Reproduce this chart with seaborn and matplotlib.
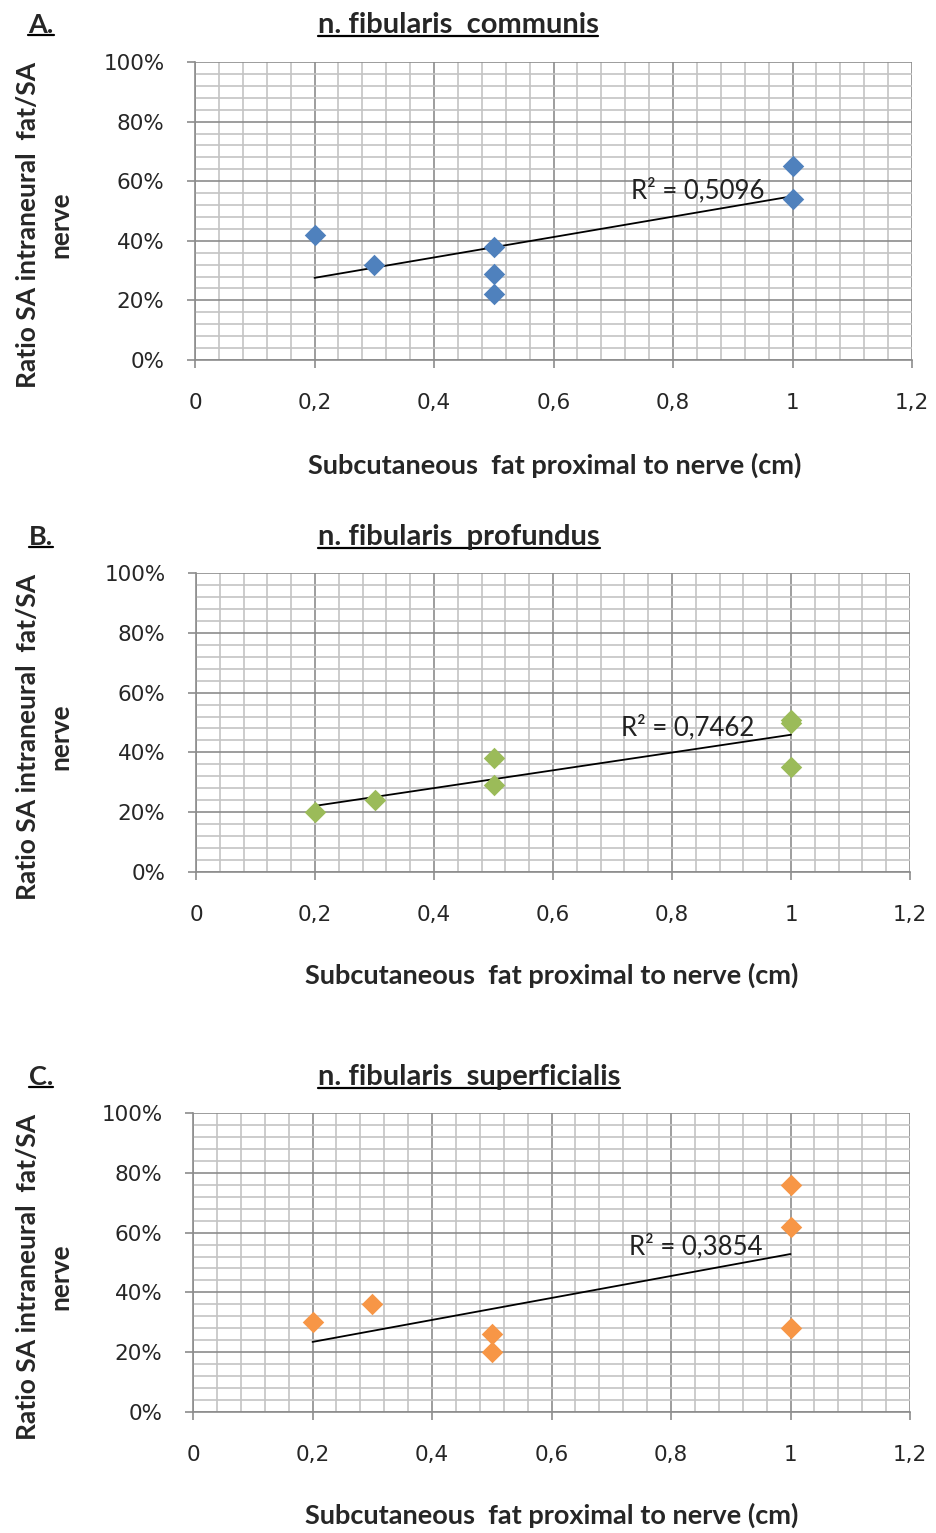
import numpy as np
import pandas as pd
import matplotlib
matplotlib.use("Agg")
import matplotlib.pyplot as plt
import matplotlib.ticker as mticker
from matplotlib.lines import Line2D
import seaborn as sns

sns.set_style("white")
plt.rcParams['font.family'] = ['Lato', 'DejaVu Sans']

# ---- data ----
panel_letters = ["A.", "B.", "C."]
titles = ["n. fibularis  communis", "n. fibularis  profundus", "n. fibularis  superficialis"]
colors = ["#4F81BD", "#9BBB59", "#F79646"]
x_a = [0.2, 0.3, 0.5, 0.5, 0.5, 1.0, 1.0]
y_a = [0.42, 0.32, 0.38, 0.29, 0.22, 0.65, 0.54]
x_b = [0.2, 0.3, 0.5, 0.5, 1.0, 1.0, 1.0]
y_b = [0.20, 0.24, 0.38, 0.29, 0.51, 0.50, 0.35]
x_c = [0.2, 0.3, 0.5, 0.5, 1.0, 1.0, 1.0]
y_c = [0.30, 0.36, 0.26, 0.20, 0.76, 0.62, 0.28]
r2_labels = ["R² = 0,5096", "R² = 0,7462", "R² = 0,3854"]
r2_pos = [(0.73, 0.57), (0.715, 0.485), (0.73, 0.552)]
xlabel = "Subcutaneous  fat proximal to nerve (cm)"
ylabel = "Ratio SA intraneural  fat/SA\nnerve"

xs = [x_a, x_b, x_c]
ys = [y_a, y_b, y_c]

W, H = 936, 1533
fig = plt.figure(figsize=(W / 100, H / 100), dpi=100)

# axes boxes in pixels (left, right, top(y0=100%), bottom(y=0%))
boxes = [(195, 912, 62, 360), (196, 910, 573, 872), (193, 910, 1113, 1412)]
title_y = [25, 537, 1077]
title_x = [458, 459, 469]
xlabel_y = [465, 975, 1515]
xlabel_x = [555, 552, 552]

def comma_fmt(v, pos):
    s = f"{v:.1f}".rstrip("0").rstrip(".")
    return s.replace(".", ",")

underline_texts = []
for i in range(3):
    l, r, t, b = boxes[i]
    ax = fig.add_axes([l / W, 1 - b / H, (r - l) / W, (b - t) / H])
    df = pd.DataFrame({"x": xs[i], "y": ys[i]})
    sns.regplot(data=df, x="x", y="y", ax=ax, scatter=False, ci=None,
                truncate=True, line_kws=dict(color="black", lw=1.3, zorder=3))
    sns.scatterplot(data=df, x="x", y="y", ax=ax, marker="D", s=120,
                    color=colors[i], edgecolor=colors[i], linewidth=0, zorder=4)
    ax.set_xlim(0, 1.2)
    ax.set_ylim(0, 1.0)
    ax.xaxis.set_major_locator(mticker.MultipleLocator(0.2))
    ax.xaxis.set_minor_locator(mticker.MultipleLocator(0.04))
    ax.yaxis.set_major_locator(mticker.MultipleLocator(0.2))
    ax.yaxis.set_minor_locator(mticker.MultipleLocator(0.04))
    ax.xaxis.set_major_formatter(mticker.FuncFormatter(comma_fmt))
    ax.yaxis.set_major_formatter(mticker.PercentFormatter(1.0, decimals=0))
    ax.grid(which="minor", color="#c4c4c4", lw=1.2)
    ax.grid(which="major", color="#8c8c8c", lw=1.2)
    ax.set_axisbelow(True)
    for s in ["top", "right"]:
        ax.spines[s].set_visible(False)
    for s in ["left", "bottom"]:
        ax.spines[s].set_color("#8c8c8c")
        ax.spines[s].set_linewidth(1.2)
    ax.tick_params(which="major", direction="out", length=6, width=1.2, color="#8c8c8c",
                   labelsize=15.5, bottom=True, left=True)
    ax.tick_params(which="minor", length=0)
    ax.tick_params(axis="x", pad=18)
    ax.tick_params(axis="y", pad=16)
    for lab in ax.get_xticklabels() + ax.get_yticklabels():
        lab.set_family("DejaVu Sans")
    ax.set_xlabel("")
    ax.set_ylabel("")
    rx, ry = r2_pos[i]
    ax.text(rx, ry, r2_labels[i], fontsize=18.5, color="#222222", va="center", ha="left", zorder=5)

    tt = fig.text(title_x[i] / W, 1 - title_y[i] / H, titles[i], fontsize=21, fontweight="bold",
                  ha="center", va="center")
    lt = fig.text(41 / W, 1 - title_y[i] / H, panel_letters[i], fontsize=19.5, fontweight="bold",
                  ha="center", va="center")
    underline_texts += [tt, lt]
    fig.text(xlabel_x[i] / W, 1 - xlabel_y[i] / H, xlabel, fontsize=19.5, fontweight="bold",
             ha="center", va="center")
    fig.text(44 / W, 1 - ((t + b) / 2 + 14) / H, ylabel, fontsize=19, fontweight="bold",
             rotation=90, ha="center", va="center", multialignment="center", linespacing=1.4)

fig.canvas.draw()
renderer = fig.canvas.get_renderer()
for tx in underline_texts:
    bb = tx.get_window_extent(renderer)
    y0 = bb.y0 + 2
    fig.add_artist(Line2D([bb.x0 / W, bb.x1 / W], [y0 / H, y0 / H], color="black", lw=1.6,
                          transform=fig.transFigure))

fig.savefig("out.png", dpi=100)
